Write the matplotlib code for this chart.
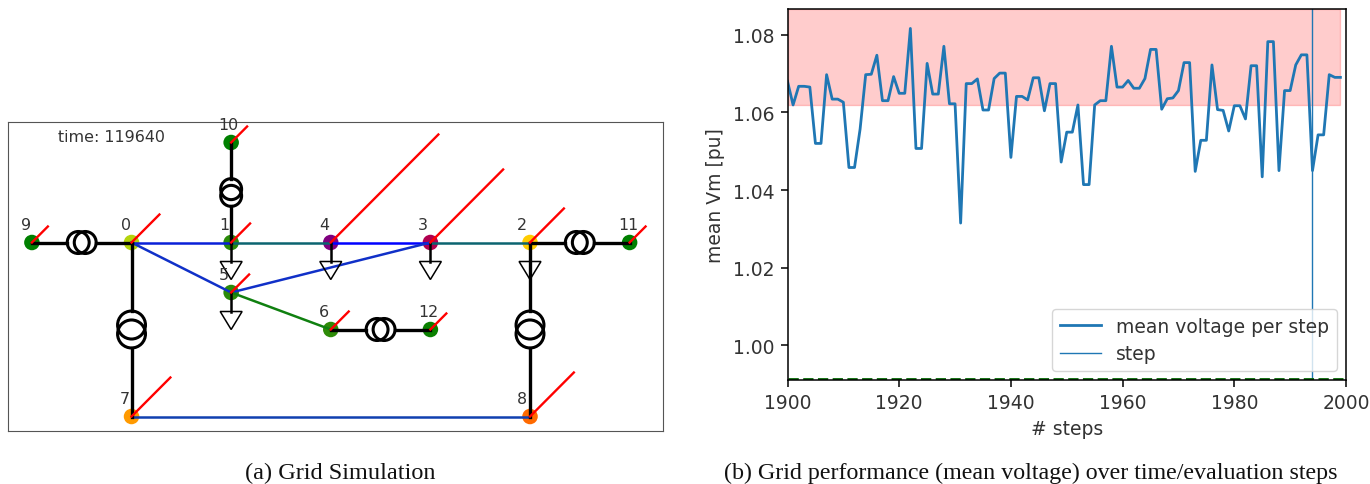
import matplotlib
matplotlib.use("Agg")
import matplotlib.pyplot as plt
import matplotlib.patches as patches
import numpy as np

# grid data
node_x = [0, 1, 4, 3, 2, 1, 2, 0, 4, -1, 1, 5, 3]
node_y = [0, 0, 0, 0, 0, -0.5, -0.87, -1.74, -1.74, 0, 1, 0, -0.87]
node_colors = ["#b4d40c", "#2a8a08", "#ffcc00", "#b0004f", "#7f007f", "#2a8a08", "#2e8b08",
               "#ff9a00", "#ff6a00", "#008000", "#008000", "#008000", "#0a8000"]
arrow_len = [0.28, 0.19, 0.34, 0.73, 1.08, 0.18, 0.18, 0.39, 0.44, 0.16, 0.16, 0.16, 0.16]
label_dx = [-6, -6.5, -8, -7.5, -7, -7, -7, -7, -8, -6, -2.5, -1.5, -2]
lines = [(0, 1), (1, 4), (4, 3), (3, 2), (0, 5), (5, 3), (5, 6), (7, 8)]
line_colors = ["#0a20d8", "#0b6470", "#0000ff", "#0b6470", "#1030c8", "#1030c8", "#108010", "#1040b0"]
trafos = [(9, 0), (10, 1), (0, 7), (2, 11), (2, 8), (6, 12)]
trafo_r = [0.11, 0.105, 0.14, 0.11, 0.14, 0.11]
load_nodes = [1, 4, 3, 2, 5]

# performance data
steps = np.arange(1900, 2000)
mean_vm = [1.068, 1.0619, 1.0667, 1.0667, 1.0665, 1.052, 1.052, 1.0697, 1.0634, 1.0634,
           1.0626, 1.0458, 1.0458, 1.0557, 1.0697, 1.0698, 1.0747, 1.063, 1.063, 1.0692,
           1.0649, 1.0649, 1.0816, 1.0507, 1.0507, 1.0726, 1.0647, 1.0647, 1.077, 1.0622,
           1.0622, 1.0315, 1.0674, 1.0674, 1.0686, 1.0606, 1.0606, 1.0687, 1.0701, 1.0701,
           1.0484, 1.0641, 1.0641, 1.0632, 1.0689, 1.0689, 1.0604, 1.0674, 1.0674, 1.0472,
           1.0549, 1.0549, 1.0619, 1.0414, 1.0414, 1.0619, 1.063, 1.063, 1.077, 1.0665,
           1.0665, 1.0682, 1.0662, 1.0662, 1.0687, 1.0762, 1.0762, 1.0608, 1.0635, 1.0637,
           1.0656, 1.0728, 1.0728, 1.0448, 1.0528, 1.0528, 1.0722, 1.0607, 1.0605, 1.0552,
           1.0617, 1.0617, 1.0583, 1.072, 1.072, 1.0434, 1.0782, 1.0782, 1.045, 1.0656,
           1.0656, 1.0722, 1.0748, 1.0748, 1.045, 1.0542, 1.0542, 1.0697, 1.069, 1.069]
current_step = 1994
v_high = 1.062
v_low = 0.9913

W, H = 1370, 485
fig = plt.figure(figsize=(W / 100, H / 100), dpi=100)

# left panel: the grid
ax = fig.add_axes([8 / W, 1 - 432 / H, 655 / W, 309 / H])
ax.set_xlim(-1.24, 5.335)
ax.set_ylim(-1.885, 1.205)
ax.set_xticks([])
ax.set_yticks([])
for s in ax.spines.values():
    s.set_color("#555555")

for (a, b), c in zip(lines, line_colors):
    ax.plot([node_x[a], node_x[b]], [node_y[a], node_y[b]], color=c, lw=1.8, zorder=2.3)

for (a, b), r in zip(trafos, trafo_r):
    p0 = np.array([node_x[a], node_y[a]])
    p1 = np.array([node_x[b], node_y[b]])
    u = (p1 - p0) / np.linalg.norm(p1 - p0)
    mid = (p0 + p1) / 2
    off = 0.32 * r
    ax.plot(*zip(p0, mid - (off + r) * u), color="k", lw=2.4, zorder=2.5)
    ax.plot(*zip(mid + (off + r) * u, p1), color="k", lw=2.4, zorder=2.5)
    for sign in (-1, 1):
        ax.add_patch(patches.Circle(mid + sign * off * u, r, fill=False, ec="k", lw=2.2, zorder=2.5))

for n in load_nodes:
    x, y = node_x[n], node_y[n]
    ax.plot([x, x], [y, y - 0.19], color="k", lw=1.8, zorder=2.5)
    ax.add_patch(patches.Polygon([(x - 0.11, y - 0.19), (x + 0.11, y - 0.19), (x, y - 0.37)],
                                 fill=False, ec="k", lw=1.1, zorder=2.5))

ax.scatter(node_x, node_y, s=125, c=node_colors, linewidths=0, zorder=2.2)

for n in range(len(node_x)):
    x, y = node_x[n], node_y[n]
    ax.plot([x, x + arrow_len[n]], [y, y + arrow_len[n]], color="red", lw=1.7, zorder=3)
    ax.text(x + label_dx[n] / 100, y + 0.18, str(n), ha="center", va="center", color="#333333", fontsize=11.4, zorder=4)

ax.text(-0.74, 1.06, "time: 119640", ha="left", va="center", color="#333333", fontsize=11.4)

# right panel: mean voltage
ax2 = fig.add_axes([787.5 / W, 1 - 381 / H, 558.5 / W, 371 / H])
ax2.fill_between(steps, v_high, 1.0866, color="red", alpha=0.2)
ax2.plot(steps, mean_vm, color="C0", lw=2, label="mean voltage per step")
ax2.axvline(current_step, color="C0", lw=1, label="step")
ax2.axhline(v_low, color="darkgreen", lw=2, ls="--")
ax2.set_xlim(1900, 2000)
ax2.set_ylim(0.9911, 1.0866)
ax2.set_xticks(range(1900, 2001, 20))
ax2.set_yticks([1.00, 1.02, 1.04, 1.06, 1.08])
ax2.tick_params(labelsize=13.5, length=4.7, width=1.1, labelcolor="#333333", pad=4.5)
ax2.set_xlabel("# steps", fontsize=13.5, color="#333333", labelpad=5.5)
ax2.set_ylabel("mean Vm [pu]", fontsize=13.5, color="#333333", labelpad=6)
for s in ax2.spines.values():
    s.set_linewidth(1.1)
leg = ax2.legend(loc="lower right", fontsize=13.5, borderaxespad=0.5, handlelength=2.2, labelspacing=0.45)
for t in leg.get_texts():
    t.set_color("#333333")

# captions
fig.text(340.5 / W, 1 - 473 / H, "(a) Grid Simulation", ha="center", va="center",
         family="Liberation Serif", fontsize=17.5, color="#111111")
fig.text(1031 / W, 1 - 473 / H, "(b) Grid performance (mean voltage) over time/evaluation steps",
         ha="center", va="center", family="Liberation Serif", fontsize=17.3, color="#111111")

fig.savefig("out.png", dpi=100)
